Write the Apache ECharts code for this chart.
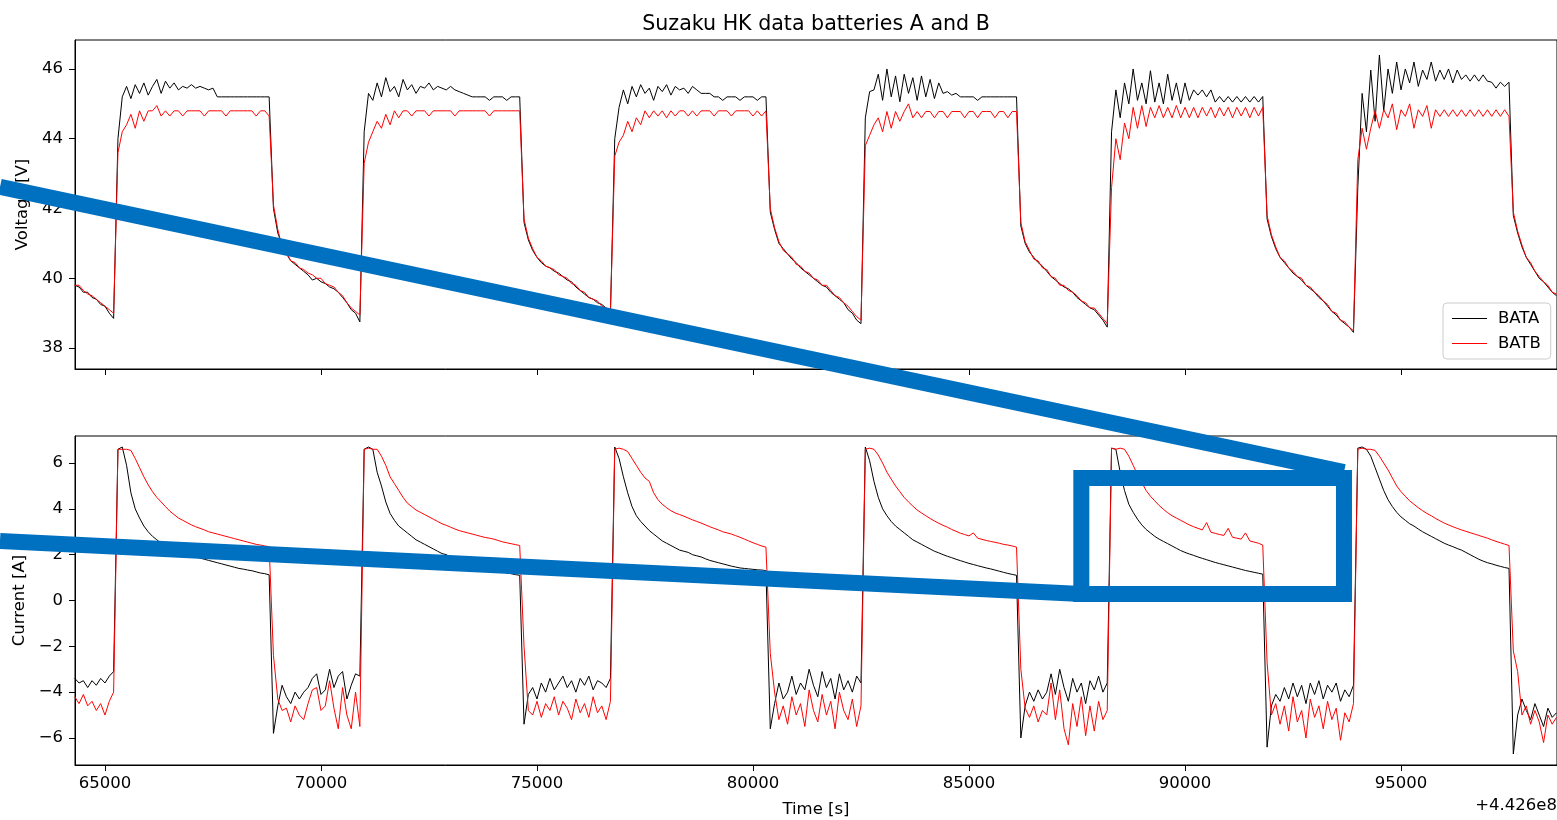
<!DOCTYPE html>
<html>
<head>
<meta charset="utf-8">
<title>Suzaku HK data batteries A and B</title>
<script src="https://cdn.jsdelivr.net/npm/echarts@6.0.0/dist/echarts.min.js"></script>
<style>
  html, body { margin: 0; padding: 0; background: #fff; }
  #container { width: 1557px; height: 820px; }
</style>
</head>
<body>
<div id="container"></div>
<script>
// HK samples, one every 100 s, time offset +4.426e8 s
var timeStart = 64300;
var timeStep = 100;

var timeTicks = [65000, 70000, 75000, 80000, 85000, 90000, 95000];
var voltageTicks = [38, 40, 42, 44, 46];
var currentTicks = [-6, -4, -2, 0, 2, 4, 6];

// battery A voltage [V]
var bataVoltage = [
  39.8, 39.75, 39.6, 39.6, 39.45, 39.4, 39.25, 39.2, 39.0, 38.85,
  // charge 1
  44.0, 45.2, 45.5, 45.15, 45.55, 45.3, 45.6, 45.25, 45.5, 45.7, 45.3, 45.65, 45.45, 45.6, 45.4, 45.5, 45.45, 45.55,
  45.45, 45.5, 45.45, 45.4, 45.45, 45.2, 45.2, 45.2, 45.2, 45.2, 45.2, 45.2, 45.2, 45.2, 45.2, 45.2, 45.2, 45.2,
  // discharge 1
  42.0, 41.3, 40.95, 40.7, 40.5, 40.4, 40.3, 40.2, 40.1, 39.95, 40.0, 39.9, 39.85, 39.75, 39.7, 39.6, 39.45, 39.3, 39.1, 39.0, 38.75,
  // charge 2
  44.2, 45.3, 45.1, 45.6, 45.2, 45.75, 45.35, 45.5, 45.2, 45.7, 45.4, 45.55, 45.3, 45.5, 45.45, 45.6, 45.4, 45.5, 45.45,
  45.4, 45.5, 45.4, 45.35, 45.3, 45.25, 45.2, 45.2, 45.2, 45.2, 45.1, 45.2, 45.2, 45.2, 45.1, 45.2, 45.2, 45.2,
  // discharge 2
  41.6, 41.1, 40.8, 40.6, 40.45, 40.35, 40.3, 40.2, 40.15, 40.05, 39.95, 39.9, 39.75, 39.65, 39.55, 39.45, 39.4, 39.3, 39.25, 39.15, 39.0,
  // charge 3
  44.0, 44.9, 45.4, 45.0, 45.5, 45.2, 45.55, 45.3, 45.45, 45.1, 45.5, 45.35, 45.55, 45.25, 45.5, 45.4, 45.45, 45.3,
  45.5, 45.4, 45.3, 45.3, 45.3, 45.2, 45.2, 45.1, 45.2, 45.2, 45.2, 45.1, 45.2, 45.2, 45.2, 45.1, 45.2, 45.2,
  // discharge 3
  41.9, 41.4, 41.0, 40.85, 40.7, 40.55, 40.45, 40.3, 40.2, 40.1, 40.0, 39.9, 39.8, 39.75, 39.6, 39.5, 39.4, 39.3, 39.1, 39.0, 38.8, 38.7,
  // charge 4
  44.6, 45.35, 45.4, 45.85, 45.1, 46.0, 45.2, 45.8, 45.06, 45.85, 45.3, 45.75, 45.1, 45.8, 45.2, 45.7, 45.15, 45.6,
  45.3, 45.35, 45.25, 45.3, 45.2, 45.2, 45.2, 45.2, 45.1, 45.2, 45.2, 45.2, 45.2, 45.2, 45.2, 45.2, 45.2, 45.2,
  // discharge 4
  41.5, 41.0, 40.75, 40.6, 40.45, 40.35, 40.2, 40.05, 39.95, 39.85, 39.75, 39.7, 39.6, 39.45, 39.35, 39.25, 39.15, 39.1, 38.95, 38.8, 38.6,
  // charge 5
  44.2, 45.4, 44.6, 45.6, 45.0, 46.0, 45.1, 45.6, 45.0, 45.95, 45.05, 45.6, 45.0, 45.85, 45.1, 45.6, 45.0, 45.6,
  45.1, 45.4, 45.25, 45.4, 45.2, 45.4, 45.05, 45.21, 45.05, 45.21, 45.05, 45.21, 45.05, 45.21, 45.05, 45.21, 45.05, 45.21,
  // discharge 5
  41.7, 41.2, 40.85, 40.6, 40.45, 40.3, 40.15, 40.05, 39.95, 39.8, 39.7, 39.6, 39.45, 39.35, 39.2, 39.05, 38.95, 38.8, 38.7, 38.6, 38.45,
  // charge 6
  42.6, 45.3, 44.2, 45.97, 44.5, 46.4, 44.8, 46.0, 45.3, 46.2, 45.4, 46.0, 45.6, 46.2, 45.5, 45.97, 45.7, 46.2,
  45.65, 45.97, 45.7, 46.0, 45.6, 45.97, 45.7, 45.83, 45.65, 45.83, 45.65, 45.83, 45.65, 45.62, 45.45, 45.62, 45.5, 45.62,
  // discharge 6
  41.8, 41.3, 40.9, 40.6, 40.4, 40.2, 40.0, 39.9, 39.75, 39.6, 39.5
];

// battery B voltage [V]
var batbVoltage = [
  39.8, 39.8, 39.65, 39.55, 39.5, 39.4, 39.3, 39.2, 39.1, 39.0,
  43.6, 44.2, 44.4, 44.7, 44.3, 44.8, 44.5, 44.8, 44.8, 44.95, 44.65, 44.8, 44.65, 44.8, 44.8, 44.65, 44.8, 44.8,
  44.8, 44.8, 44.65, 44.8, 44.8, 44.8, 44.8, 44.65, 44.8, 44.8, 44.8, 44.8, 44.8, 44.8, 44.65, 44.8, 44.8, 44.65,
  42.1, 41.4, 40.9, 40.75, 40.5, 40.45, 40.3, 40.25, 40.15, 40.1, 40.0, 40.0, 39.85, 39.8, 39.75, 39.6, 39.5, 39.3, 39.15, 39.05, 38.95,
  43.3, 43.9, 44.2, 44.5, 44.3, 44.7, 44.4, 44.8, 44.6, 44.8, 44.8, 44.65, 44.8, 44.8, 44.8, 44.65, 44.8, 44.8, 44.8,
  44.8, 44.8, 44.65, 44.8, 44.8, 44.8, 44.8, 44.8, 44.8, 44.8, 44.65, 44.8, 44.8, 44.8, 44.8, 44.8, 44.8, 44.8,
  41.7, 41.15, 40.85, 40.6, 40.5, 40.35, 40.3, 40.25, 40.1, 40.05, 40.0, 39.85, 39.8, 39.65, 39.6, 39.45, 39.4, 39.35, 39.2, 39.15, 39.05,
  43.5, 43.9, 44.1, 44.5, 44.2, 44.6, 44.4, 44.8, 44.6, 44.8, 44.65, 44.8, 44.6, 44.8, 44.65, 44.8, 44.8, 44.65,
  44.8, 44.65, 44.8, 44.8, 44.8, 44.65, 44.8, 44.8, 44.8, 44.65, 44.8, 44.8, 44.8, 44.8, 44.65, 44.8, 44.65, 44.8,
  42.0, 41.45, 41.05, 40.8, 40.7, 40.6, 40.4, 40.35, 40.2, 40.15, 40.0, 39.95, 39.8, 39.8, 39.65, 39.5, 39.45, 39.3, 39.2, 39.05, 38.9, 38.8,
  43.8, 44.1, 44.4, 44.6, 44.2, 44.78, 44.3, 44.78, 44.5, 44.78, 45.0, 44.6, 44.78, 44.6, 44.78, 44.78, 44.6, 44.78,
  44.78, 44.6, 44.78, 44.78, 44.78, 44.6, 44.78, 44.78, 44.6, 44.78, 44.78, 44.78, 44.6, 44.78, 44.78, 44.6, 44.78, 44.78,
  41.6, 41.05, 40.8, 40.55, 40.5, 40.3, 40.25, 40.05, 40.0, 39.8, 39.8, 39.65, 39.6, 39.5, 39.35, 39.3, 39.15, 39.15, 39.0, 38.85, 38.7,
  42.6, 44.0, 43.4, 44.45, 44.0, 44.9, 44.3, 44.95, 44.35, 44.9, 44.6, 44.95, 44.6, 44.9, 44.6, 44.95, 44.6, 44.9,
  44.6, 44.9, 44.6, 44.9, 44.65, 44.9, 44.6, 44.9, 44.65, 44.9, 44.6, 44.9, 44.65, 44.9, 44.6, 44.9, 44.65, 44.9,
  41.8, 41.25, 40.9, 40.6, 40.5, 40.3, 40.2, 40.05, 40.0, 39.8, 39.75, 39.6, 39.5, 39.35, 39.25, 39.05, 39.0, 38.8, 38.75, 38.6, 38.5,
  43.4, 44.3, 43.7, 44.3, 44.8, 44.3, 44.83, 44.6, 45.0, 44.26, 44.83, 44.64, 45.0, 44.3, 44.83, 44.64, 44.95, 44.3,
  44.83, 44.64, 44.83, 44.64, 44.83, 44.64, 44.83, 44.64, 44.83, 44.64, 44.83, 44.64, 44.83, 44.64, 44.83, 44.64, 44.83, 44.64,
  41.9, 41.35, 40.95, 40.6, 40.45, 40.2, 40.05, 39.9, 39.8, 39.6, 39.55
];

// battery A current [A]
var bataCurrent = [
  -3.4, -3.6, -3.5, -3.8, -3.5, -3.7, -3.4, -3.6, -3.3, -3.1,
  6.6, 6.7, 5.9, 4.7, 4.0, 3.6, 3.25, 3.0, 2.8, 2.65, 2.5, 2.4, 2.3, 2.2, 2.12, 2.05, 2.0, 1.95,
  1.9, 1.85, 1.8, 1.75, 1.7, 1.65, 1.6, 1.55, 1.5, 1.45, 1.4, 1.37, 1.33, 1.3, 1.25, 1.2, 1.17, 1.12,
  -5.8, -4.6, -3.7, -4.2, -4.5, -4.0, -4.3, -4.0, -3.8, -3.4, -3.2, -4.1, -3.9, -3.0, -3.8, -3.3, -3.1, -4.3, -3.7, -3.2, -3.3,
  6.6, 6.7, 6.6, 5.6, 5.0, 4.3, 3.8, 3.5, 3.25, 3.1, 2.95, 2.8, 2.65, 2.55, 2.45, 2.35, 2.25, 2.15, 2.05,
  2.0, 1.9, 1.85, 1.78, 1.7, 1.65, 1.6, 1.55, 1.5, 1.45, 1.4, 1.35, 1.3, 1.25, 1.2, 1.17, 1.13, 1.1,
  -5.4, -4.1, -3.8, -4.3, -3.6, -4.0, -3.4, -3.9, -3.6, -3.3, -3.8, -3.5, -4.0, -3.4, -3.7, -3.3, -3.9, -3.5, -3.6, -3.8, -3.4,
  6.7, 6.2, 5.4, 4.7, 4.1, 3.7, 3.45, 3.25, 3.05, 2.9, 2.75, 2.6, 2.5, 2.4, 2.3, 2.2, 2.15, 2.1,
  2.0, 1.95, 1.9, 1.82, 1.75, 1.7, 1.65, 1.6, 1.55, 1.5, 1.46, 1.42, 1.4, 1.38, 1.36, 1.34, 1.33, 1.3,
  -5.6, -4.5, -3.6, -4.3, -4.0, -3.3, -4.1, -3.6, -3.9, -3.0, -3.7, -4.2, -3.1, -3.8, -3.4, -4.3, -3.2, -3.9, -3.5, -4.0, -3.3, -3.6,
  6.7, 6.1, 5.2, 4.5, 4.0, 3.7, 3.45, 3.25, 3.1, 2.95, 2.8, 2.65, 2.55, 2.45, 2.35, 2.25, 2.15, 2.08,
  2.0, 1.93, 1.87, 1.8, 1.74, 1.68, 1.62, 1.57, 1.52, 1.47, 1.42, 1.38, 1.33, 1.28, 1.23, 1.18, 1.14, 1.1,
  -6.0, -4.6, -4.0, -4.4, -3.9, -4.3, -4.0, -3.2, -4.1, -3.0, -3.8, -4.4, -3.4, -4.0, -3.6, -4.5, -3.5, -3.9, -3.3, -4.0, -3.6,
  6.65, 6.6, 5.6, 4.8, 4.2, 3.85, 3.55, 3.3, 3.1, 2.95, 2.8, 2.68, 2.58, 2.48, 2.38, 2.28, 2.18, 2.1,
  2.03, 1.97, 1.9, 1.84, 1.78, 1.72, 1.66, 1.61, 1.56, 1.51, 1.46, 1.41, 1.36, 1.31, 1.27, 1.23, 1.19, 1.15,
  -6.4, -4.6, -4.1, -4.4, -3.8, -4.3, -3.6, -4.2, -3.7, -4.5, -3.6, -4.1, -3.5, -4.3, -3.7, -4.0, -3.6, -4.4, -3.9, -4.2, -3.7,
  6.65, 6.7, 6.6, 6.3, 5.8, 5.3, 4.8, 4.4, 4.1, 3.85, 3.65, 3.5, 3.35, 3.25, 3.12, 3.0, 2.9, 2.8,
  2.7, 2.6, 2.5, 2.42, 2.35, 2.27, 2.2, 2.1, 2.0, 1.9, 1.8, 1.72, 1.65, 1.6, 1.54, 1.49, 1.44, 1.4,
  -6.7, -5.0, -4.3, -4.8, -5.2, -4.5, -5.0, -5.5, -4.7, -5.1, -4.9
];

// battery B current [A]
var batbCurrent = [
  -4.2, -4.5, -4.1, -4.6, -4.4, -4.8, -4.5, -5.0, -4.4, -4.0,
  6.6, 6.6, 6.6, 6.55, 6.2, 5.8, 5.4, 5.05, 4.75, 4.5, 4.3, 4.1, 3.9, 3.75, 3.6, 3.5, 3.4, 3.3,
  3.22, 3.15, 3.08, 3.0, 2.95, 2.9, 2.85, 2.8, 2.75, 2.7, 2.65, 2.6, 2.55, 2.5, 2.45, 2.42, 2.38, 2.35,
  -2.4, -4.3, -4.8, -4.7, -5.3, -4.6, -5.0, -5.2, -4.5, -3.9, -3.8, -4.8, -4.6, -3.5, -4.7, -5.6, -3.8, -5.0, -5.6, -4.0, -5.5,
  6.6, 6.65, 6.6, 6.6, 6.3, 5.9, 5.4, 5.1, 4.8, 4.5, 4.25, 4.1, 3.95, 3.85, 3.75, 3.65, 3.55, 3.45, 3.35,
  3.28, 3.2, 3.12, 3.05, 3.0, 2.95, 2.9, 2.85, 2.8, 2.75, 2.72, 2.68, 2.62, 2.56, 2.52, 2.48, 2.44, 2.4,
  -2.0, -4.8, -5.0, -4.4, -5.1, -4.5, -4.8, -4.2, -5.0, -4.4, -4.7, -5.2, -4.3, -4.9, -4.5, -5.1, -4.2, -4.9, -4.6, -5.2, -4.4,
  6.6, 6.65, 6.6, 6.5, 6.2, 5.9, 5.6, 5.35, 5.2, 4.7, 4.4, 4.2, 4.05, 3.92, 3.82, 3.75, 3.68, 3.6,
  3.52, 3.45, 3.38, 3.3, 3.22, 3.15, 3.08, 3.0, 2.95, 2.9, 2.83, 2.76, 2.68, 2.6, 2.52, 2.45, 2.38, 2.33,
  -2.3, -4.0, -5.2, -4.6, -5.4, -4.2, -5.0, -4.5, -5.5, -3.9, -4.8, -5.3, -4.1, -5.0, -4.4, -5.6, -4.0, -4.8, -5.2, -4.3, -5.5, -4.6,
  6.6, 6.65, 6.6, 6.35, 6.0, 5.6, 5.3, 5.0, 4.75, 4.5, 4.3, 4.12, 3.95, 3.82, 3.7, 3.58, 3.47, 3.37,
  3.28, 3.2, 3.1, 3.02, 2.94, 2.88, 2.82, 2.95, 2.72, 2.67, 2.62, 2.58, 2.54, 2.5, 2.45, 2.42, 2.38, 2.33,
  -3.0, -4.7, -5.1, -4.6, -5.3, -4.8, -5.0, -3.6, -5.2, -3.9, -5.6, -6.3, -4.5, -5.5, -4.2, -5.9, -4.6, -5.7, -4.4, -5.2, -4.8,
  6.65, 6.6, 6.65, 6.6, 6.3, 5.9, 5.5, 5.15, 4.8, 4.55, 4.35, 4.15, 3.98, 3.83, 3.7, 3.6, 3.5, 3.4,
  3.3, 3.22, 3.15, 3.08, 3.4, 2.98, 2.93, 2.88, 2.84, 3.15, 2.76, 2.72, 2.68, 2.95, 2.6, 2.55, 2.5, 2.42,
  -2.7, -5.0, -4.5, -5.4, -4.6, -5.7, -4.2, -5.3, -4.8, -6.0, -4.3, -5.1, -4.6, -5.6, -4.4, -5.2, -4.7, -6.1, -4.9, -5.3, -4.5,
  6.6, 6.65, 6.6, 6.6, 6.55, 6.3, 6.0, 5.7, 5.35, 5.0, 4.75, 4.55, 4.35, 4.2, 4.05, 3.92, 3.8, 3.7,
  3.58, 3.48, 3.38, 3.3, 3.22, 3.15, 3.08, 3.02, 2.96, 2.9, 2.84, 2.78, 2.72, 2.65, 2.58, 2.52, 2.46, 2.4,
  -2.2, -3.1, -5.0, -4.6, -5.4, -4.8, -5.3, -6.2, -5.0, -5.4, -5.1
];

// blue zoom callout, in data units
var calloutBox = [[87600, 5.35], [93680, 0.28]];   // [t, A] corners on the current panel
var calloutStartT = 62570;                           // leader lines come in from left of the plot
var upperLeader = [42.62, 5.6];                      // start [V] on voltage panel, end [A] on current panel
var lowerLeader = 2.6;                               // start [A] on current panel

var time = bataVoltage.map(function (v, i) { return timeStart + i * timeStep; });

function pairs(values) {
    return values.map(function (v, i) { return [time[i], v]; });
}

function minusSign(v) {
    return v < 0 ? '\u2212' + (-v) : String(v);
}

var font = 'DejaVu Sans';
var tMin = 64306, tMax = 98611;

function timeAxis(gridIndex, withLabels) {
    return {
        type: 'value',
        gridIndex: gridIndex,
        min: tMin,
        max: tMax,
        name: withLabels ? 'Time [s]' : '',
        nameLocation: 'middle',
        nameGap: 36,
        nameTextStyle: { fontSize: 16.5, color: '#000', fontFamily: font },
        axisLine: { show: true, onZero: false, lineStyle: { color: '#000', width: 1 } },
        axisTick: { show: true, length: 6, customValues: timeTicks, lineStyle: { color: '#000' } },
        axisLabel: {
            show: withLabels, customValues: timeTicks, margin: 10, fontSize: 16.5, color: '#000', fontFamily: font,
            formatter: function (v) { return String(v); }
        },
        splitLine: { show: false }
    };
}

function valueAxis(gridIndex, name, min, max, ticks, gap) {
    return {
        type: 'value',
        gridIndex: gridIndex,
        min: min,
        max: max,
        name: name,
        nameLocation: 'middle',
        nameGap: gap,
        nameTextStyle: { fontSize: 16.5, color: '#000', fontFamily: font },
        axisLine: { show: true, onZero: false, lineStyle: { color: '#000', width: 1 } },
        axisTick: { show: true, length: 6, customValues: ticks, lineStyle: { color: '#000' } },
        axisLabel: { customValues: ticks, margin: 12, fontSize: 16.5, color: '#000', fontFamily: font, formatter: minusSign },
        splitLine: { show: false }
    };
}

function trace(name, color, panel, values) {
    return {
        name: name,
        type: 'line',
        xAxisIndex: panel,
        yAxisIndex: panel,
        data: pairs(values),
        symbol: 'none',
        showSymbol: false,
        silent: true,
        lineStyle: { color: color, width: 1 },
        itemStyle: { color: color }
    };
}

var chart = echarts.init(document.getElementById('container'));

chart.setOption({
    animation: false,
    textStyle: { fontFamily: font },
    title: {
        text: 'Suzaku HK data batteries A and B',
        left: 811,
        top: 9,
        textAlign: 'center',
        textStyle: { fontSize: 20.6, fontWeight: 'normal', color: '#000', fontFamily: font }
    },
    legend: {
        data: ['BATA', 'BATB'],
        orient: 'vertical',
        left: 1443,
        top: 303,
        padding: [7, 10, 7, 9],
        icon: 'rect',
        itemWidth: 35,
        itemHeight: 1.2,
        itemGap: 8,
        selectedMode: false,
        backgroundColor: 'rgba(255,255,255,0.8)',
        borderColor: '#cccccc',
        borderWidth: 1,
        borderRadius: 4,
        textStyle: { fontSize: 16.5, color: '#000', fontFamily: font, padding: [0, 0, 0, 6] }
    },
    grid: [
        { left: 75, top: 40, width: 1482, height: 329, show: true, borderColor: '#000', borderWidth: 1 },
        { left: 75, top: 436, width: 1482, height: 329, show: true, borderColor: '#000', borderWidth: 1 }
    ],
    xAxis: [timeAxis(0, false), timeAxis(1, true)],
    yAxis: [
        valueAxis(0, 'Voltage [V]', 37.4, 46.83, voltageTicks, 43),
        valueAxis(1, 'Current [A]', -7.18, 7.18, currentTicks, 47)
    ],
    series: [
        trace('BATA', '#000000', 0, bataVoltage),
        trace('BATB', '#ff0000', 0, batbVoltage),
        trace('BATA', '#000000', 1, bataCurrent),
        trace('BATB', '#ff0000', 1, batbCurrent)
    ]
});

// callout and offset text drawn on top, placed through the axes
var boxA = chart.convertToPixel({ gridIndex: 1 }, calloutBox[0]);
var boxB = chart.convertToPixel({ gridIndex: 1 }, calloutBox[1]);
var up0 = chart.convertToPixel({ gridIndex: 0 }, [calloutStartT, upperLeader[0]]);
var up1 = chart.convertToPixel({ gridIndex: 1 }, [calloutBox[1][0], upperLeader[1]]);
var low0 = chart.convertToPixel({ gridIndex: 1 }, [calloutStartT, lowerLeader]);
var blue = '#0070c0';

chart.setOption({
    graphic: [
        {
            type: 'text',
            right: 0,
            top: 797,
            style: { text: '+4.426e8', fill: '#000', font: '16.5px "DejaVu Sans"' }
        },
        {
            type: 'rect',
            z: 100,
            silent: true,
            shape: {
                x: Math.min(boxA[0], boxB[0]),
                y: Math.min(boxA[1], boxB[1]),
                width: Math.abs(boxB[0] - boxA[0]),
                height: Math.abs(boxB[1] - boxA[1])
            },
            style: { fill: 'none', stroke: blue, lineWidth: 16 }
        },
        {
            type: 'line',
            z: 100,
            silent: true,
            shape: { x1: up0[0], y1: up0[1], x2: up1[0], y2: up1[1] },
            style: { stroke: blue, lineWidth: 16, lineCap: 'butt' }
        },
        {
            type: 'line',
            z: 100,
            silent: true,
            shape: { x1: low0[0], y1: low0[1], x2: boxA[0], y2: boxB[1] },
            style: { stroke: blue, lineWidth: 16, lineCap: 'butt' }
        }
    ]
});
</script>
</body>
</html>
